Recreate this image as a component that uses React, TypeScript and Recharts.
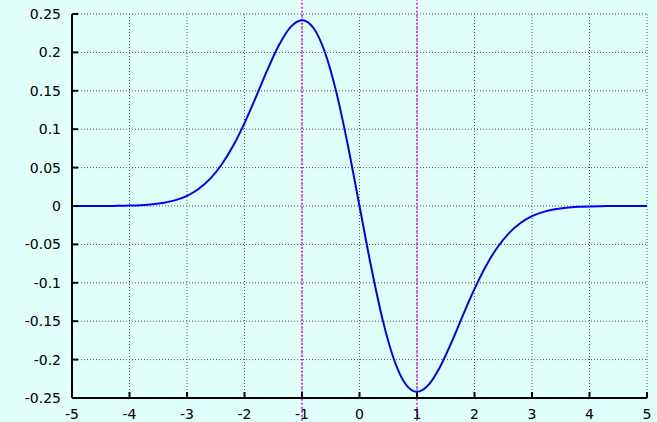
import React from 'react';
import {
  LineChart,
  Line,
  XAxis,
  YAxis,
  CartesianGrid,
  ReferenceLine,
} from 'recharts';

// x positions of the sampled curve
const xValues = [
  -5, -4.8, -4.6, -4.4, -4.2, -4, -3.8, -3.6, -3.4, -3.2, -3, -2.8, -2.6, -2.4, -2.2, -2,
  -1.8, -1.6, -1.4, -1.2, -1, -0.8, -0.6, -0.4, -0.2, 0, 0.2, 0.4, 0.6, 0.8, 1, 1.2, 1.4,
  1.6, 1.8, 2, 2.2, 2.4, 2.6, 2.8, 3, 3.2, 3.4, 3.6, 3.8, 4, 4.2, 4.4, 4.6, 4.8, 5,
];

// curve values
const yValues = [
  0.0, 0.0, 0.0, 0.0001, 0.0002, 0.0005, 0.0011, 0.0022, 0.0042, 0.0076, 0.0133, 0.0222,
  0.0353, 0.0537, 0.078, 0.108, 0.1421, 0.1775, 0.2096, 0.233, 0.242, 0.2318, 0.1999,
  0.1473, 0.0782, 0, -0.0782, -0.1473, -0.1999, -0.2318, -0.242, -0.233, -0.2096, -0.1775,
  -0.1421, -0.108, -0.078, -0.0537, -0.0353, -0.0222, -0.0133, -0.0076, -0.0042, -0.0022,
  -0.0011, -0.0005, -0.0002, -0.0001, 0.0, 0.0, 0.0,
];

const xTicks = [-5, -4, -3, -2, -1, 0, 1, 2, 3, 4, 5];
const yTicks = [0.25, 0.2, 0.15, 0.1, 0.05, 0, -0.05, -0.1, -0.15, -0.2, -0.25];
const markers = [-1, 1];

const data = xValues.map((x, i) => ({ x, y: yValues[i] }));

const tickFont = { fontSize: 14, fontFamily: 'DejaVu Sans', fill: '#000' };
const frame = { stroke: '#000', strokeWidth: 2 };
const noLabel = () => <text />;

export default function App() {
  return (
    <div style={{ position: 'absolute', left: 0, top: 0, width: 657, height: 422, background: '#e0fffa' }}>
      <LineChart
        width={657}
        height={422}
        data={data}
        margin={{ top: 14, right: 10, bottom: 4, left: 0 }}
      >
        <CartesianGrid stroke="#555" strokeDasharray="1 2" />
        <XAxis
          dataKey="x"
          type="number"
          domain={[-5, 5]}
          ticks={xTicks}
          allowDataOverflow
          height={20}
          tickSize={-6}
          tickMargin={17}
          tick={tickFont}
          tickLine={frame}
          axisLine={frame}
        />
        <XAxis
          xAxisId="top"
          orientation="top"
          dataKey="x"
          type="number"
          domain={[-5, 5]}
          ticks={xTicks}
          height={0}
          tickSize={-6}
          tick={noLabel}
          tickLine={frame}
          axisLine={frame}
        />
        <YAxis
          type="number"
          domain={[-0.25, 0.25]}
          ticks={yTicks}
          allowDataOverflow
          width={72}
          tickSize={-6}
          tickMargin={17}
          tick={tickFont}
          tickLine={frame}
          axisLine={frame}
        />
        <YAxis
          yAxisId="right"
          orientation="right"
          type="number"
          domain={[-0.25, 0.25]}
          ticks={yTicks}
          width={0}
          tickSize={-6}
          tick={noLabel}
          tickLine={frame}
          axisLine={frame}
        />
        {markers.map((m) => (
          <ReferenceLine
            key={m}
            ifOverflow="visible"
            segment={[
              { x: m, y: 0.27 },
              { x: m, y: -0.282 },
            ]}
            stroke="#ee00ee"
            strokeWidth={1.5}
            strokeDasharray="2 2"
          />
        ))}
        <Line
          type="monotone"
          dataKey="y"
          stroke="#0000ff"
          strokeWidth={2}
          dot={false}
          isAnimationActive={false}
        />
      </LineChart>
    </div>
  );
}
